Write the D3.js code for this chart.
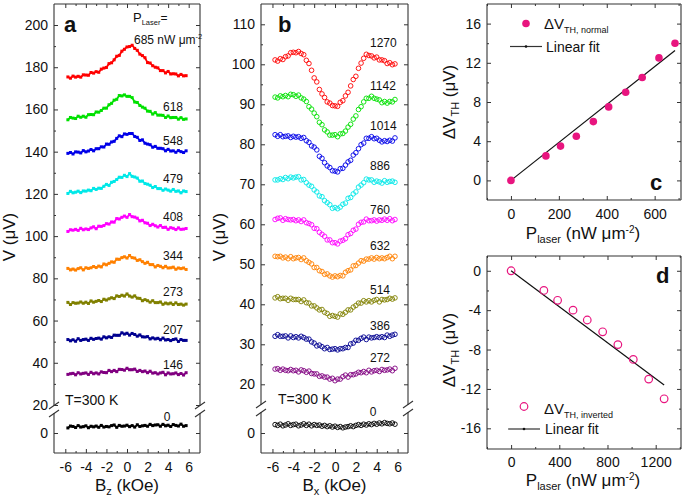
<!DOCTYPE html>
<html><head><meta charset="utf-8">
<script src="https://cdn.jsdelivr.net/npm/d3@7"></script>
<style>
body{margin:0;background:#fff;}
</style></head><body>
<svg id="chart" width="685" height="501"></svg>
<script>
// ---------------- DATA ----------------
const bField = [-5.75,-5.5,-5.25,-5,-4.75,-4.5,-4.25,-4,-3.75,-3.5,-3.25,-3,-2.75,-2.5,-2.25,-2,-1.75,-1.5,-1.25,-1,-0.75,-0.5,-0.25,0,0.25,0.5,0.75,1,1.25,1.5,1.75,2,2.25,2.5,2.75,3,3.25,3.5,3.75,4,4.25,4.5,4.75,5,5.25,5.5,5.75];

// panel a : V vs Bz (normal)
const powersA = ["685","618","548","479","408","344","273","207","146","0"];
const vA685 = [175.4,174.8,175.8,175.3,175.7,175.3,176.4,176.3,176.2,177.5,177.2,177.9,177.6,179.1,179.6,179.9,181.7,182.1,183.5,185.2,185.6,187.6,188.5,189.6,189.8,190.4,188.9,188.0,186.2,185.5,184.5,182.2,182.0,180.7,180.0,179.7,178.4,178.4,177.3,178.0,176.8,176.9,176.8,175.9,176.6,175.9,176.0];
const vA618 = [155.1,156.2,155.9,155.7,156.8,156.3,156.8,156.3,157.5,157.6,157.5,158.8,158.7,159.5,160.6,160.6,162.2,162.9,164.4,164.8,166.6,166.4,166.9,166.2,166.2,165.6,163.5,163.3,161.9,161.1,160.6,159.2,159.1,157.8,158.5,157.3,157.3,157.2,156.2,156.9,156.1,156.2,156.2,155.4,156.1,155.3,155.5];
const vA548 = [139.2,139.6,138.9,139.9,139.8,139.4,140.5,139.9,140.3,141.0,140.4,141.4,141.4,142.3,142.2,143.6,143.5,144.6,144.9,146.3,147.5,147.1,148.4,148.2,148.6,148.6,147.2,146.8,145.3,145.6,144.0,143.6,143.3,142.1,142.5,141.6,141.6,141.4,140.4,141.1,140.3,140.4,139.7,140.5,140.0,139.6,140.4];
const vA479 = [120.2,121.2,120.5,120.8,121.3,120.6,121.4,121.3,121.8,121.5,122.6,122.1,122.7,122.6,123.6,124.5,124.0,125.5,125.9,126.8,127.9,127.8,128.8,128.2,129.6,128.3,128.0,127.5,126.0,126.1,124.9,124.6,124.1,123.0,123.5,122.5,122.5,121.7,122.3,121.8,121.3,122.1,121.2,121.4,120.5,121.4,121.1];
const vA408 = [102.2,103.0,102.8,103.2,102.7,103.7,103.0,103.4,103.1,103.9,104.4,103.5,104.7,104.6,105.0,105.9,105.7,106.7,106.6,108.3,108.1,108.9,109.5,108.9,110.2,109.2,109.0,108.5,107.2,107.5,106.3,106.1,105.0,105.6,104.9,104.3,105.0,104.1,104.2,103.2,104.0,103.7,103.1,103.9,103.2,103.3,103.6];
const vA344 = [84.7,84.0,84.4,83.9,84.6,85.0,84.0,85.0,84.7,85.0,85.6,85.1,85.8,85.4,86.8,86.4,87.1,87.8,87.6,89.1,89.0,89.8,90.2,89.6,90.8,89.8,89.6,88.5,88.8,87.9,87.1,87.6,86.5,86.5,85.4,86.1,85.7,85.0,85.7,84.9,85.0,85.3,84.3,84.9,84.6,84.9,84.2];
const vA273 = [68.6,67.6,68.5,68.2,68.3,68.8,68.2,68.7,68.1,69.3,68.7,69.1,69.5,69.0,70.1,69.7,70.3,70.8,70.4,71.7,71.4,72.0,71.6,72.6,71.6,71.1,71.7,70.6,70.5,69.4,69.9,69.4,68.7,69.4,68.5,68.5,68.8,67.7,68.3,67.9,68.3,67.6,68.4,67.6,67.8,67.3,67.8];
const vA207 = [51.0,50.4,50.9,50.2,51.4,50.6,51.0,51.2,50.6,51.6,51.1,51.5,51.7,51.2,52.3,51.8,52.3,52.0,53.1,53.0,53.0,54.2,53.6,54.0,53.1,53.9,53.4,52.6,53.2,52.3,52.2,52.4,51.3,51.8,51.3,51.6,50.9,51.7,50.8,51.0,50.5,51.0,51.3,50.1,51.0,50.6,50.6];
const vA146 = [34.5,34.8,35.0,34.3,35.3,34.7,35.0,35.2,34.5,35.5,34.8,35.2,34.7,35.7,35.4,35.3,36.4,35.8,36.4,35.8,36.9,36.8,36.5,37.4,36.7,36.7,37.0,35.9,36.4,35.8,36.1,35.3,36.0,35.1,35.3,34.7,35.2,35.5,34.3,35.2,34.7,34.8,35.2,34.4,34.9,34.2,35.3];
const vA0   = [2.4,3.3,3.1,2.6,3.5,2.8,3.0,3.4,2.5,3.2,2.9,3.3,2.7,3.6,2.8,3.1,2.9,3.5,3.8,2.7,3.6,3.2,3.3,3.7,3.0,3.5,2.8,3.9,3.1,3.4,3.6,3.2,4.1,3.5,3.8,3.9,3.2,4.1,3.4,3.7,3.1,4.0,3.6,3.3,4.2,3.2,3.5];

// panel b : V vs Bx (inverted)
const powersB = ["1270","1142","1014","886","760","632","514","386","272","0"];
const vB1270 = [101.1,100.8,101.4,101.2,101.9,102.1,102.9,103.0,102.9,103.2,102.7,102.4,101.0,100.2,98.5,96.6,95.6,93.7,92.6,91.7,90.6,90.3,89.7,89.6,89.5,90.5,90.9,92.1,93.0,94.6,96.2,97.0,99.0,100.3,101.5,102.5,102.2,102.1,101.6,101.8,101.1,101.1,100.9,100.2,100.4,99.9,100.1];
const vB1142 = [91.8,91.6,92.1,91.9,92.2,91.9,92.5,92.4,92.0,92.3,91.6,91.3,90.7,89.4,88.8,87.8,86.9,85.5,84.9,83.6,83.1,82.3,82.3,82.4,81.9,82.6,82.7,83.3,84.3,85.0,86.3,87.1,88.7,89.4,90.6,91.5,91.5,92.0,91.5,91.3,91.1,90.4,90.7,90.3,90.7,90.6,91.2];
const vB1014 = [82.4,82.0,82.4,81.9,82.0,82.1,81.7,82.0,81.8,81.9,81.5,81.7,80.9,80.5,79.6,79.3,78.6,77.0,76.5,75.4,74.6,74.2,73.4,73.3,73.1,73.9,74.0,74.8,75.6,76.0,77.3,77.9,78.9,79.9,80.3,81.5,81.5,81.9,81.4,81.5,81.0,80.6,80.9,80.7,81.0,80.8,81.6];
const vB886  = [71.1,71.1,71.4,71.2,71.7,71.4,71.8,71.6,71.8,71.9,71.1,71.2,70.4,69.8,69.5,68.6,68.1,67.1,66.9,65.9,65.4,64.9,64.0,64.2,63.9,64.3,65.0,65.3,66.5,66.7,67.6,68.1,69.3,69.8,70.4,71.3,71.1,71.1,70.5,70.8,70.6,70.3,70.9,70.5,70.7,70.8,70.5];
const vB760  = [61.2,61.5,61.6,61.0,61.4,61.2,61.1,61.2,60.9,61.1,60.7,61.1,60.4,60.2,59.9,59.0,58.9,58.0,57.5,57.0,56.1,56.1,55.4,55.4,55.1,55.8,56.0,56.4,57.4,57.7,58.5,58.8,60.0,60.5,60.6,61.3,60.9,60.9,61.1,60.8,61.1,61.0,61.3,61.0,61.4,60.9,61.2];
const vB632  = [52.0,51.9,52.0,51.6,51.8,51.4,51.9,51.4,51.6,51.7,51.2,51.6,50.9,50.5,50.1,49.2,49.2,48.4,48.2,47.5,47.6,47.1,46.8,47.1,46.9,47.2,47.1,48.0,48.4,48.6,49.6,49.7,50.3,50.9,50.8,51.3,51.3,51.6,51.3,51.7,51.4,51.6,51.4,51.7,52.0,51.4,52.0];
const vB514  = [41.6,41.9,41.4,41.5,41.5,41.0,41.5,41.2,41.2,41.2,40.7,41.1,40.4,40.3,39.6,39.6,39.1,38.6,38.7,38.0,37.7,37.0,37.2,37.0,36.8,37.6,37.5,38.0,38.6,38.6,39.3,39.7,40.3,40.3,40.9,40.6,40.9,40.6,41.0,41.2,40.6,41.2,41.1,41.2,41.5,41.3,41.6];
const vB386  = [32.0,32.4,32.0,32.0,32.1,31.6,32.1,31.7,31.9,31.6,32.0,31.7,31.3,31.3,30.6,30.3,29.6,29.8,29.4,28.9,29.2,28.7,28.8,28.9,28.6,28.9,28.9,29.2,29.2,30.1,30.3,31.0,31.0,31.5,31.8,31.2,31.8,31.6,31.7,31.9,31.7,31.9,31.7,32.3,32.0,32.3,32.5];
const vB272  = [23.8,23.9,23.5,23.8,23.5,23.4,23.7,23.4,23.5,23.1,23.6,23.4,23.0,23.3,22.7,22.6,22.6,22.0,22.1,21.8,21.8,21.3,21.5,20.9,21.3,21.3,21.9,22.3,21.8,22.4,22.4,22.6,23.0,22.9,23.2,22.9,23.5,23.1,23.4,23.5,23.2,23.7,23.5,23.6,23.8,23.4,24.0];
const vB0    = [2.1,1.9,2.2,1.8,2.0,2.3,1.9,2.1,2.2,1.8,2.0,2.3,1.9,2.2,1.8,2.1,1.9,2.0,1.7,1.9,1.6,1.8,1.5,1.7,1.4,1.6,1.3,1.5,1.6,1.8,1.6,1.9,2.1,1.9,2.2,2.0,2.3,2.1,2.4,2.2,2.5,2.3,2.6,2.4,2.3,2.5,2.2];

const curveColors = ["#ff0000","#00e000","#0000e8","#00e8e8","#ff00ff","#ff8000","#808000","#000090","#800080","#000000"];

// panel c : dV_TH normal vs P
const powerC = [0,146,207,273,344,408,479,548,618,685];
const dVnormal = [0,2.5,3.5,4.5,6,7.5,9,10.5,12.5,14];
const fitCx = [0,685];
const fitCy = [0,13.25];

// panel d : dV_TH inverted vs P
const powerD = [0,272,386,514,632,760,886,1014,1142,1270];
const dVinverted = [0,-2,-3,-4,-5,-6.2,-7.5,-9,-11,-13];
const fitDx = [0,1270];
const fitDy = [0,-11.6];

// tick labels
const tickBx = [-6,-4,-2,0,2,4,6];
const tickBxLabels = ["-6","-4","-2","0","2","4","6"];
const tickVa = [20,40,60,80,100,120,140,160,180,200];
const tickVb = [20,30,40,50,60,70,80,90,100,110];
const tickPc = [0,200,400,600];
const tickVc = [0,4,8,12,16];
const tickPd = [0,400,800,1200];
const tickVd = [0,-4,-8,-12,-16];
const tickVdLabels = ["0","-4","-8","-12","-16"];

// ---------------- DRAW ----------------
const FONT = '"Liberation Sans", Arial, Helvetica, sans-serif';
const AX = "#333";
const svg = d3.select("#chart");

function addAxis(axisFn, scale, tx, ty, values, size, labels, padding) {
  const ax = axisFn(scale).tickValues(values).tickSize(size).tickPadding(padding || 6)
    .tickFormat(labels ? ((d, i) => labels[i]) : () => "");
  const g = svg.append("g").attr("transform", `translate(${tx},${ty})`).call(ax);
  g.select(".domain").remove();
  g.selectAll(".tick line").attr("stroke", AX).attr("stroke-width", 1);
  g.selectAll(".tick text").attr("font-family", FONT).attr("font-size", 14).attr("fill", "#111");
  return g;
}
function seg(x1, y1, x2, y2, w) {
  svg.append("line").attr("x1", x1).attr("y1", y1).attr("x2", x2).attr("y2", y2)
    .attr("stroke", AX).attr("stroke-width", w || 1.1);
}
function txt(x, y, s, size, opts) {
  const t = svg.append("text").attr("x", x).attr("y", y).attr("font-family", FONT)
    .attr("font-size", size).attr("fill", "#111").text(s);
  if (opts && opts.anchor) t.attr("text-anchor", opts.anchor);
  if (opts && opts.bold) t.attr("font-weight", "bold");
  return t;
}
// rich text: parts = [[text,size,dy], ...]
function rich(x, y, parts, anchor, rotate) {
  const g = svg.append("g").attr("transform", `translate(${x},${y})` + (rotate ? " rotate(-90)" : ""));
  const t = g.append("text").attr("font-family", FONT).attr("fill", "#111")
    .attr("text-anchor", anchor || "middle");
  parts.forEach(p => t.append("tspan").attr("font-size", p[1]).attr("dy", p[2] || 0).text(p[0]));
  return t;
}

// ===== Panel a =====
{
  const L = 54, R = 200, T = 4, B = 453, gap1 = 406, gap2 = 413;
  const x = d3.scaleLinear().domain([-7.1, 7.1]).range([L, R]);
  const yU = d3.scaleLinear().domain([20, 200]).range([405, 25]);
  const yL = d3.scaleLinear().domain([0, 10]).range([433, 411.9]);
  const series = [vA685, vA618, vA548, vA479, vA408, vA344, vA273, vA207, vA146, vA0];
  series.forEach((vals, k) => {
    const y = k === 9 ? yL : yU;
    const pts = bField.map((b, i) => [x(b), y(vals[i])]);
    svg.append("path").attr("d", d3.line()(pts)).attr("fill", "none")
      .attr("stroke", curveColors[k]).attr("stroke-width", 1.8);
    svg.append("g").selectAll("rect").data(pts).join("rect")
      .attr("x", d => d[0] - 1.5).attr("y", d => d[1] - 1.5).attr("width", 3).attr("height", 3)
      .attr("fill", curveColors[k]);
  });
  // frame
  seg(L, T, R, T); seg(L, B, R, B);
  seg(L, T, L, gap1); seg(L, gap2, L, B); seg(R, T, R, gap1); seg(R, gap2, R, B);
  [L, R].forEach(xx => { seg(xx - 5, gap1 + 3, xx + 5, gap1 - 4); seg(xx - 5, gap2 + 4, xx + 5, gap2 - 3); });
  // axes
  const minorX = [-5, -3, -1, 1, 3, 5];
  addAxis(d3.axisBottom, x, 0, B, tickBx, -4, tickBxLabels, 9);
  addAxis(d3.axisBottom, x, 0, B, minorX, -2, null);
  addAxis(d3.axisTop, x, 0, T, tickBx, -4, null);
  addAxis(d3.axisTop, x, 0, T, minorX, -2, null);
  const minorU = [30, 50, 70, 90, 110, 130, 150, 170, 190];
  addAxis(d3.axisLeft, yU, L, 0, tickVa, -4, tickVa.map(String), 6);
  addAxis(d3.axisLeft, yU, L, 0, minorU, -2, null);
  addAxis(d3.axisLeft, yL, L, 0, [0], -4, ["0"], 6);
  addAxis(d3.axisRight, yU, R, 0, tickVa, -4, null);
  addAxis(d3.axisRight, yU, R, 0, minorU, -2, null);
  addAxis(d3.axisRight, yL, R, 0, [0], -4, null);
  // labels
  txt(64, 32, "a", 22, { bold: true });
  rich(133, 22, [["P", 13], ["Laser", 7.5, 3], ["=", 12, -3]], "start");
  rich(134, 44, [["685 nW μm", 12], ["-2", 7.5, -5]], "start");
  const labY = [null, 161.6, 145.5, 127.1, 109.1, 90.6, 73.7, 56, 39.4];
  for (let k = 1; k < 9; k++) txt(163, yU(labY[k]) + 4.5, powersA[k], 12);
  txt(167, yL(7.7) + 4.5, "0", 12, { anchor: "middle" });
  txt(65, 405, "T=300 K", 14);
  rich(15, 237, [["V (μV)", 17]], "middle", true);
  rich(127, 491, [["B", 17], ["z", 11, 4], [" (kOe)", 17, -4]], "middle");
}

// ===== Panel b =====
{
  const L = 261, R = 408, T = 4, B = 453, gap1 = 405, gap2 = 412;
  const x = d3.scaleLinear().domain([-7.1, 7.0]).range([L, R]);
  const yU = d3.scaleLinear().domain([20, 110]).range([384.3, 24.3]);
  const yL = d3.scaleLinear().domain([0, 5]).range([433, 413]);
  const series = [vB1270, vB1142, vB1014, vB886, vB760, vB632, vB514, vB386, vB272, vB0];
  series.forEach((vals, k) => {
    const y = k === 9 ? yL : yU;
    const pts = bField.map((b, i) => [x(b), y(vals[i])]);
    svg.append("g").selectAll("circle").data(pts).join("circle")
      .attr("cx", d => d[0]).attr("cy", d => d[1]).attr("r", 2.3)
      .attr("fill", "none").attr("stroke", curveColors[k]).attr("stroke-width", 0.9);
  });
  seg(L, T, R, T); seg(L, B, R, B);
  seg(L, T, L, gap1); seg(L, gap2, L, B); seg(R, T, R, gap1); seg(R, gap2, R, B);
  [L, R].forEach(xx => { seg(xx - 5, gap1 + 3, xx + 5, gap1 - 4); seg(xx - 5, gap2 + 4, xx + 5, gap2 - 3); });
  const minorX = [-5, -3, -1, 1, 3, 5];
  addAxis(d3.axisBottom, x, 0, B, tickBx, -4, tickBxLabels, 9);
  addAxis(d3.axisBottom, x, 0, B, minorX, -2, null);
  addAxis(d3.axisTop, x, 0, T, tickBx, -4, null);
  addAxis(d3.axisTop, x, 0, T, minorX, -2, null);
  const minorU = [25, 35, 45, 55, 65, 75, 85, 95, 105];
  addAxis(d3.axisLeft, yU, L, 0, tickVb, -4, tickVb.map(String), 6);
  addAxis(d3.axisLeft, yU, L, 0, minorU, -2, null);
  addAxis(d3.axisLeft, yL, L, 0, [0], -4, ["0"], 6);
  addAxis(d3.axisRight, yU, R, 0, tickVb, -4, null);
  addAxis(d3.axisRight, yU, R, 0, minorU, -2, null);
  addAxis(d3.axisRight, yL, R, 0, [0], -4, null);
  txt(278, 32, "b", 22, { bold: true });
  const labY = [105.4, 94.6, 84.6, 74.6, 63.8, 54.65, 43.75, 34.8, 26.75];
  for (let k = 0; k < 9; k++) txt(370, yU(labY[k]) + 4.5, powersB[k], 12);
  txt(373, yL(5.3) + 4.5, "0", 12, { anchor: "middle" });
  txt(278, 404, "T=300 K", 14);
  rich(225, 237, [["V (μV)", 17]], "middle", true);
  rich(334.5, 491, [["B", 17], ["x", 11, 4], [" (kOe)", 17, -4]], "middle");
}

// ===== Panel c =====
{
  const L = 487, R = 681, T = 4, B = 200;
  const x = d3.scaleLinear().domain([-100, 710]).range([L, R]);
  const y = d3.scaleLinear().domain([-2, 18]).range([B, T]);
  const pink = "#e8157f";
  svg.append("path").attr("d", d3.line()(fitCx.map((v, i) => [x(v), y(fitCy[i])])))
    .attr("stroke", "#111").attr("stroke-width", 1.2).attr("fill", "none");
  svg.append("g").selectAll("circle").data(powerC).join("circle")
    .attr("cx", d => x(d)).attr("cy", (d, i) => y(dVnormal[i])).attr("r", 3.8).attr("fill", pink);
  seg(L, T, R, T); seg(L, B, R, B); seg(L, T, L, B); seg(R, T, R, B);
  const minorX = [-100, 100, 300, 500, 700], minorY = [2, 6, 10, 14];
  addAxis(d3.axisBottom, x, 0, B, tickPc, -4, tickPc.map(String), 9);
  addAxis(d3.axisBottom, x, 0, B, minorX, -2, null);
  addAxis(d3.axisTop, x, 0, T, tickPc, -4, null);
  addAxis(d3.axisTop, x, 0, T, minorX, -2, null);
  addAxis(d3.axisLeft, y, L, 0, tickVc, -4, tickVc.map(String), 6);
  addAxis(d3.axisLeft, y, L, 0, minorY, -2, null);
  addAxis(d3.axisRight, y, R, 0, tickVc, -4, null);
  addAxis(d3.axisRight, y, R, 0, minorY, -2, null);
  // legend
  svg.append("circle").attr("cx", 526).attr("cy", 23.5).attr("r", 3.8).attr("fill", pink);
  rich(544, 29, [["ΔV", 15], ["TH, normal", 9, 4]], "start");
  seg(510, 46.5, 542, 46.5, 1.2);
  svg.append("circle").attr("cx", 526).attr("cy", 46.5).attr("r", 1.3).attr("fill", "#111");
  txt(546, 51.5, "Linear fit", 14);
  txt(650, 190, "c", 22, { bold: true });
  rich(455, 102, [["ΔV", 17], ["TH", 11, 4], [" (μV)", 17, -4]], "middle", true);
  rich(583, 239, [["P", 17], ["laser", 11, 4], [" (nW μm", 17, -4], ["-2", 10, -6], [")", 17, 6]], "middle");
}

// ===== Panel d =====
{
  const L = 487, R = 681, T = 256, B = 449;
  const x = d3.scaleLinear().domain([-200, 1410]).range([L, R]);
  const y = d3.scaleLinear().domain([-18.1, 1.5]).range([B, T]);
  const pink = "#e8157f";
  svg.append("path").attr("d", d3.line()(fitDx.map((v, i) => [x(v), y(fitDy[i])])))
    .attr("stroke", "#111").attr("stroke-width", 1.2).attr("fill", "none");
  svg.append("g").selectAll("circle").data(powerD).join("circle")
    .attr("cx", d => x(d)).attr("cy", (d, i) => y(dVinverted[i])).attr("r", 3.8)
    .attr("fill", "none").attr("stroke", pink).attr("stroke-width", 1.2);
  seg(L, T, R, T); seg(L, B, R, B); seg(L, T, L, B); seg(R, T, R, B);
  const minorX = [-200, 200, 600, 1000, 1400], minorY = [-2, -6, -10, -14];
  addAxis(d3.axisBottom, x, 0, B, tickPd, -4, tickPd.map(String), 8);
  addAxis(d3.axisBottom, x, 0, B, minorX, -2, null);
  addAxis(d3.axisTop, x, 0, T, tickPd, -4, null);
  addAxis(d3.axisTop, x, 0, T, minorX, -2, null);
  addAxis(d3.axisLeft, y, L, 0, tickVd, -4, tickVdLabels, 6);
  addAxis(d3.axisLeft, y, L, 0, minorY, -2, null);
  addAxis(d3.axisRight, y, R, 0, tickVd, -4, null);
  addAxis(d3.axisRight, y, R, 0, minorY, -2, null);
  svg.append("circle").attr("cx", 524).attr("cy", 406.5).attr("r", 3.8)
    .attr("fill", "none").attr("stroke", pink).attr("stroke-width", 1.2);
  rich(544, 414, [["ΔV", 15], ["TH, inverted", 9, 4]], "start");
  seg(508, 429, 540, 429, 1.2);
  svg.append("circle").attr("cx", 524).attr("cy", 429).attr("r", 1.3).attr("fill", "#111");
  txt(545, 434, "Linear fit", 14);
  txt(656, 283, "d", 22, { bold: true });
  rich(455, 350, [["ΔV", 17], ["TH", 11, 4], [" (μV)", 17, -4]], "middle", true);
  rich(583, 486, [["P", 17], ["laser", 11, 4], [" (nW μm", 17, -4], ["-2", 10, -6], [")", 17, 6]], "middle");
}
</script>
</body></html>
